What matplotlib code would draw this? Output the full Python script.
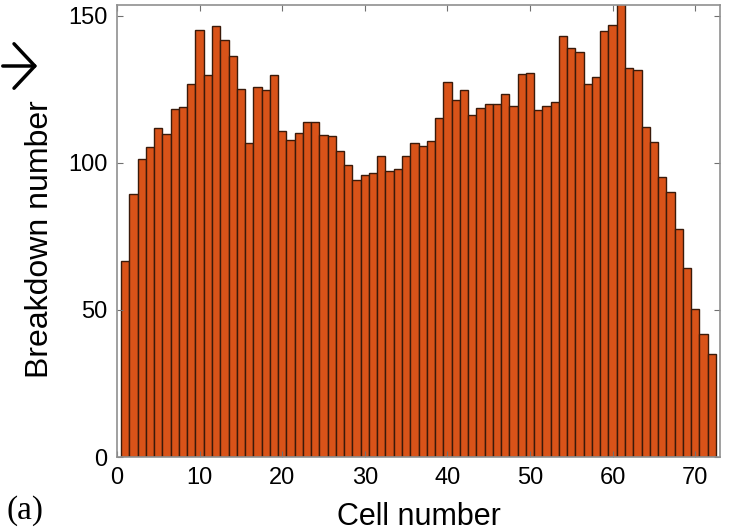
import matplotlib
matplotlib.use("Agg")
import matplotlib.pyplot as plt
import numpy as np

cells = list(range(1, 73))
breakdowns = [66.5, 89.5, 101.4, 105.2, 111.8, 109.7, 118.4, 119.1, 126.9, 145.0,
              129.8, 146.4, 141.7, 136.2, 124.9, 106.6, 125.6, 124.7, 129.8, 110.8,
              107.7, 110.1, 113.7, 113.7, 109.5, 109.1, 104.1, 99.1, 94.0, 95.7,
              96.4, 102.4, 97.3, 97.7, 102.4, 106.6, 105.7, 107.5, 115.2, 127.6,
              121.3, 124.7, 116.2, 118.6, 120.1, 119.8, 123.5, 119.2, 130.0, 130.5,
              117.9, 119.2, 120.6, 143.0, 138.9, 137.6, 126.9, 129.0, 144.6, 146.7,
              156.0, 132.2, 131.6, 112.0, 107.2, 95.0, 90.1, 77.4, 64.3, 50.3,
              41.8, 34.9]
xticks = [0, 10, 20, 30, 40, 50, 60, 70]
yticks = [0, 50, 100, 150]

plt.rcParams['font.family'] = ['Liberation Sans', 'DejaVu Sans']

fig = plt.figure(figsize=(7.38, 5.31), dpi=100)
ax = fig.add_axes([117/738, 1 - 457/531, (720-117)/738, (457-5)/531])
ax.bar(cells, breakdowns, width=1.0, color='#D95319', edgecolor='#3a1a0a', linewidth=1.0)
ax.set_xlim(0, 73)
ax.set_ylim(0, 153.6)
ax.set_xticks(xticks)
ax.set_yticks(yticks)
ax.tick_params(direction='in', length=4, width=0.8, color='#707070',
               labelsize=17, top=True, right=True)
ax.tick_params(axis='x', pad=7.5)
ax.tick_params(axis='y', pad=7)
for s in ax.spines.values():
    s.set_color('#909090')
    s.set_linewidth(1.2)
ax.set_xlabel('Cell number', fontsize=22, labelpad=9)
ax.set_ylabel('Breakdown number', fontsize=23, va='center')
ax.yaxis.set_label_coords((40 - 117) / 603, (457 - 239) / 452)

fig.text(6/738, 1 - 511/531, '(a)', fontsize=24, family=['Liberation Serif', 'DejaVu Serif'],
         va='center', ha='left')
fig.patches.append(matplotlib.patches.FancyArrowPatch(
    (0/738, 1 - 66/531), (40/738, 1 - 66/531), transform=fig.transFigure,
    arrowstyle='->,head_length=0.75,head_width=0.8', mutation_scale=20,
    color='black', lw=2.5))

fig.savefig('out.png', dpi=100)
